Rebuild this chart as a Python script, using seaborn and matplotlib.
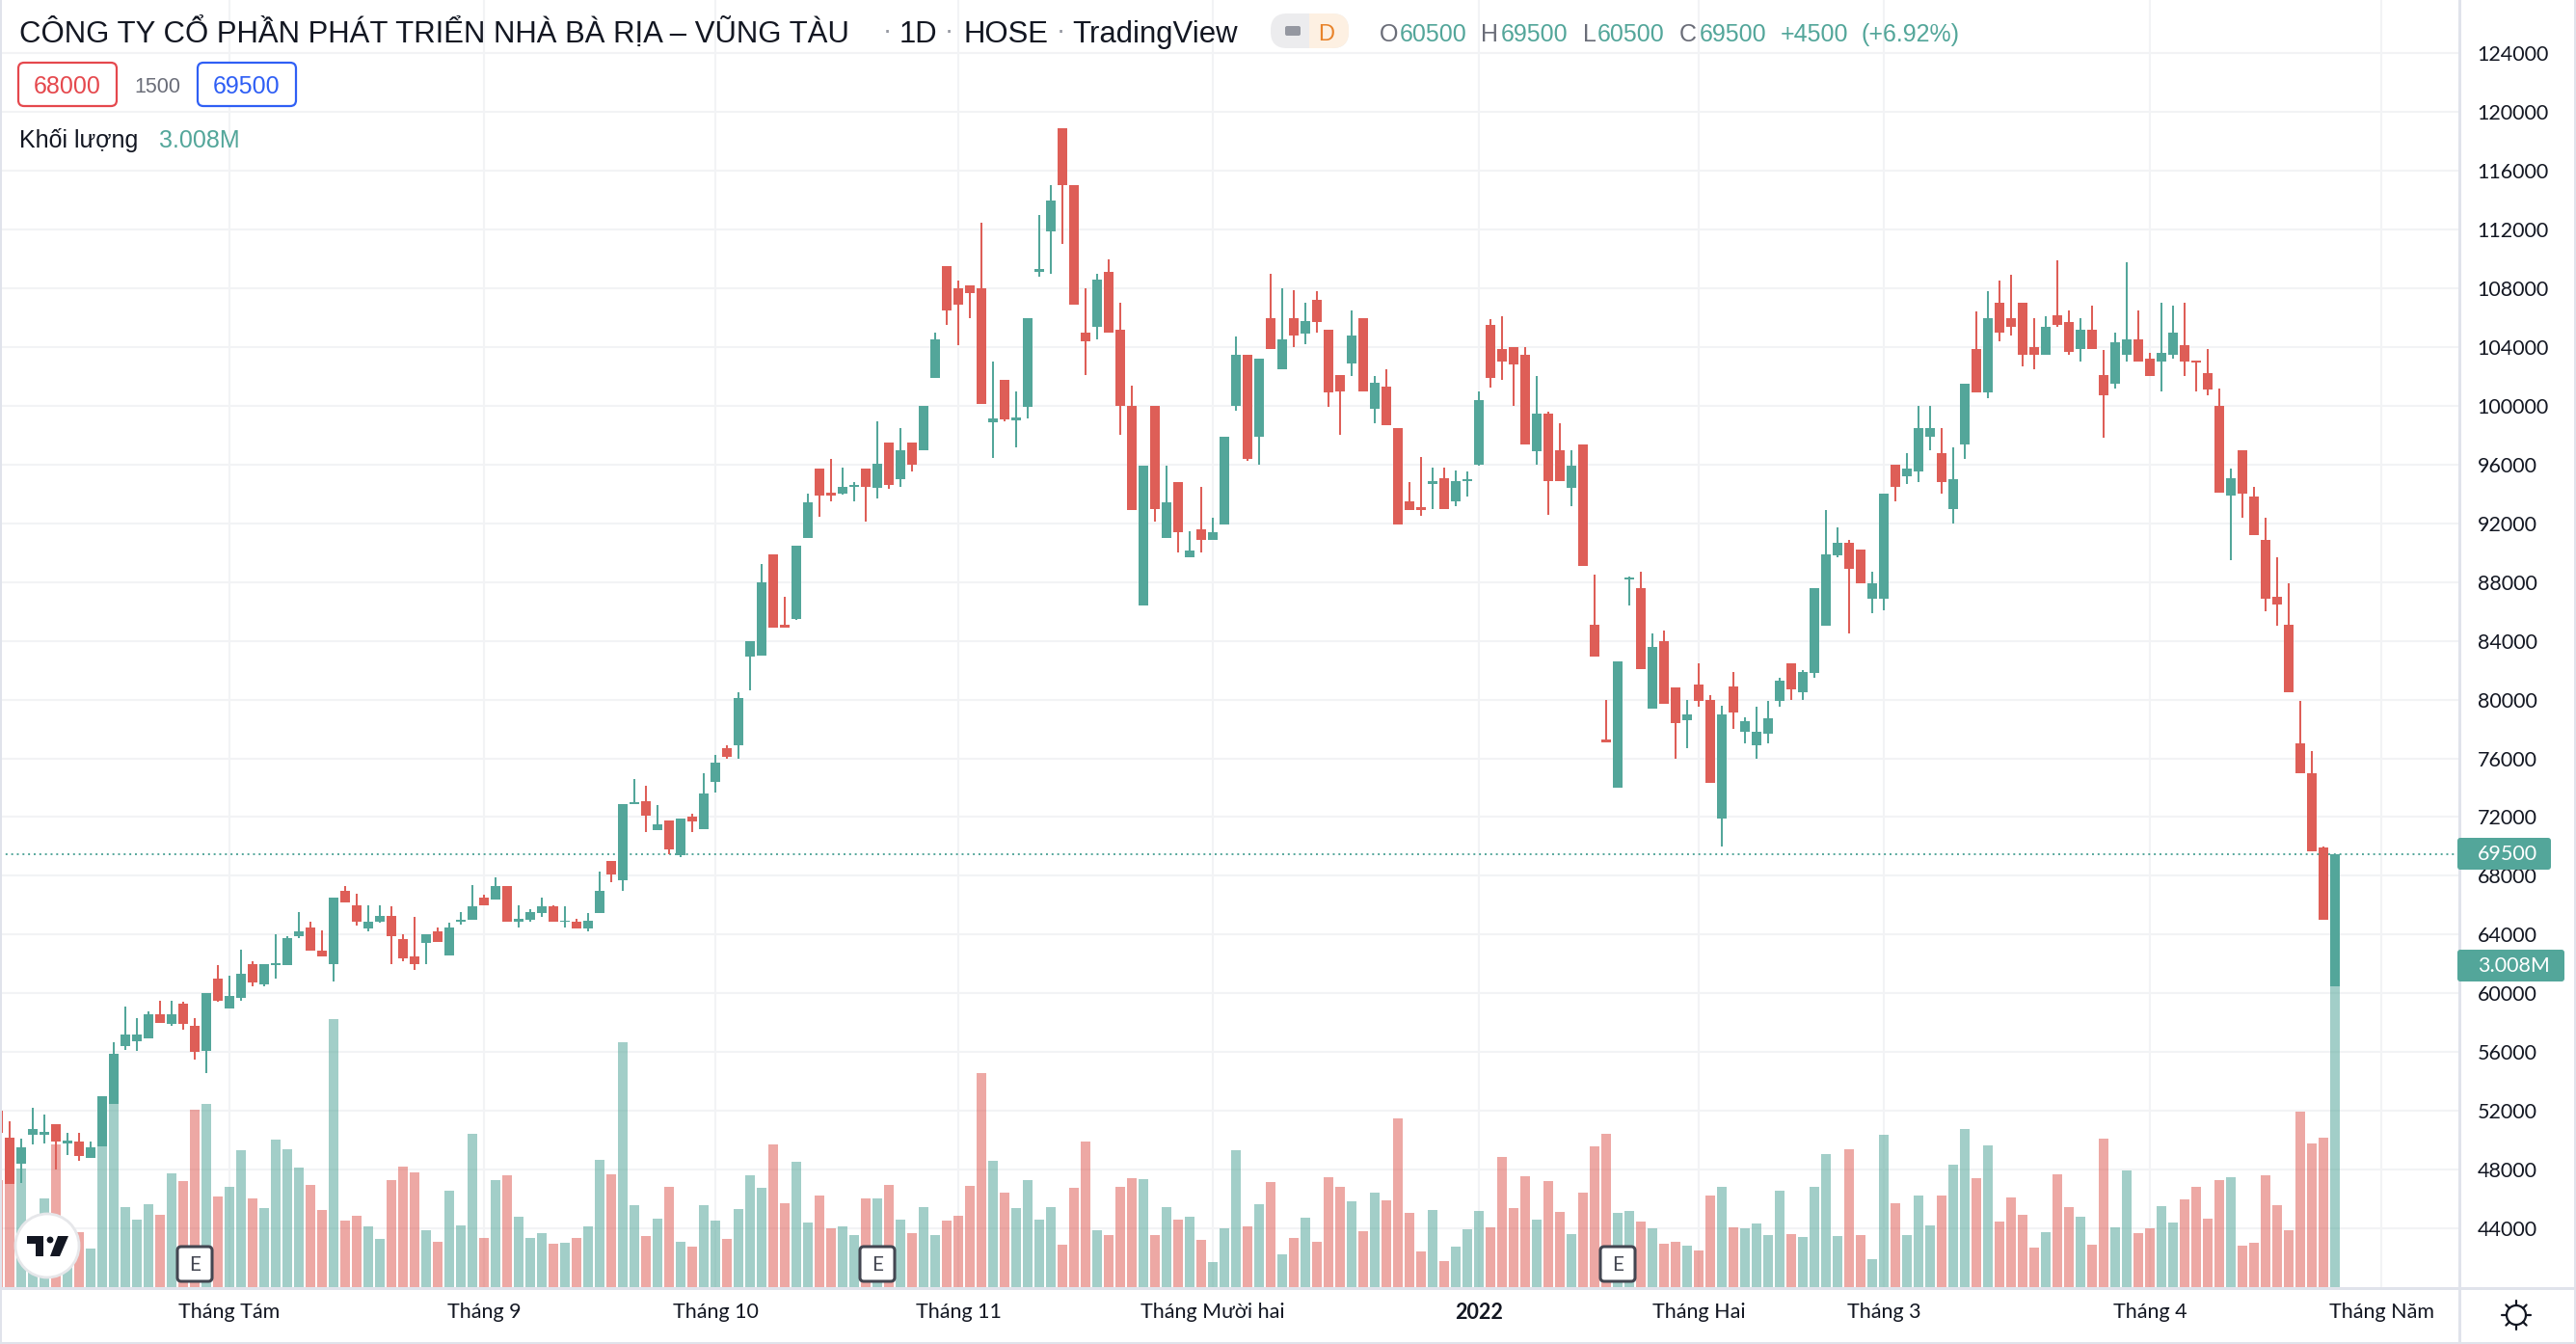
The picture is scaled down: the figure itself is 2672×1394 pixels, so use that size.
import numpy as np
import pandas as pd
import matplotlib
matplotlib.use("Agg")
import matplotlib.pyplot as plt
import seaborn as sns
from matplotlib.patches import Circle, FancyBboxPatch, Polygon, Rectangle

# === Daily candles, first entry is the bar cut off at the left edge ===
opens = [52000,
    50200, 48400, 50400, 50400, 51100, 49800, 49900, 48800, 49600, 52500,
    56400, 56750, 56950, 58550, 57950, 59300, 57800, 56100, 61000, 58950,
    59700, 62000, 60600, 61900, 61950, 63900, 64500, 62900, 62000, 67000,
    66000, 64400, 64900, 65300, 63700, 62500, 63400, 64200, 62600, 64900,
    65000, 66500, 66400, 67300, 64900, 65000, 65450, 65900, 64850, 64900,
    64400, 65450, 69000, 67700, 72900, 73100, 71100, 71800, 69400, 72000,
    71200, 74400, 76700, 76900, 82900, 83000, 89900, 85100, 85500, 91000,
    95700, 94100, 94000, 94450, 95700, 94400, 97500, 95000, 97500, 97000,
    101900, 109500, 108000, 108200, 108000, 98900, 101800, 99000, 99950, 109100,
    111900, 118900, 115000, 105000, 105400, 109100, 105200, 100000, 86400, 100000,
    91000, 94800, 89700, 91600, 90900, 91900, 100000, 103500, 97900, 106000,
    102500, 106000, 104900, 107200, 105200, 102100, 102900, 106000, 99800, 101300,
    98500, 93500, 93100, 94650, 95100, 93500, 94850, 96000, 105500, 103900,
    104000, 103500, 96900, 99500, 97000, 94400, 97400, 85100, 77300, 74000,
    88150, 87600, 79400, 84000, 80800, 78600, 81000, 80000, 71900, 80900,
    77800, 76900, 77700, 79900, 82500, 80500, 81800, 85000, 89800, 90700,
    90200, 86900, 86900, 96000, 95200, 95500, 97900, 96800, 93000, 97400,
    103900, 100900, 107000, 106000, 107000, 104000, 103500, 106200, 105700, 103900,
    105200, 102100, 101500, 103500, 104500, 103200, 103000, 103500, 104100, 103050,
    102200, 100000, 93900, 97000, 93800, 90900, 87000, 85100, 77000, 75000,
    69900, 60500]

highs = [52000,
    51300, 50100, 52200, 51750, 51100, 50500, 50500, 49900, 53000, 56700,
    59100, 58300, 58750, 59500, 59500, 59400, 58300, 60000, 61900, 61200,
    63000, 62200, 62000, 64000, 63900, 65500, 64900, 64300, 66500, 67300,
    66800, 66000, 66000, 65900, 64000, 65200, 64000, 64500, 64800, 65500,
    67400, 66700, 67900, 67300, 66000, 65700, 66500, 66000, 65900, 65100,
    65450, 68300, 69000, 72900, 74600, 74100, 72800, 71800, 71900, 72200,
    75000, 76200, 76900, 80500, 84000, 89200, 89900, 87000, 90500, 94000,
    95700, 96400, 95800, 94800, 95700, 98950, 97500, 98500, 97500, 100000,
    105000, 109500, 108500, 108200, 112500, 103000, 101800, 101000, 106000, 113000,
    115000, 118900, 115000, 108000, 109000, 110000, 107000, 101400, 95900, 100000,
    95900, 94800, 91450, 94500, 92400, 97900, 104700, 103500, 103200, 109000,
    108000, 107900, 107000, 107800, 105200, 102100, 106500, 106000, 102000, 102500,
    98500, 94800, 96500, 95800, 95800, 95600, 95500, 101000, 105900, 106100,
    104000, 104000, 102000, 99600, 98800, 97000, 97400, 88500, 80000, 82600,
    88400, 88700, 84500, 84700, 80800, 80000, 82500, 80300, 79600, 81900,
    78800, 79500, 79900, 81500, 82500, 82000, 87600, 92900, 91700, 90900,
    90200, 88700, 94000, 96000, 96800, 100000, 100000, 98500, 97200, 101500,
    106400, 107800, 108500, 108900, 107000, 106000, 106100, 109900, 106500, 106000,
    106800, 103800, 105000, 109800, 106500, 103600, 107000, 106800, 107000, 103100,
    103900, 101200, 95700, 97000, 94500, 92400, 89700, 87900, 79900, 76500,
    70000, 69500]

lows = [50500,
    47000, 47100, 49700, 49800, 48000, 49000, 48600, 48800, 49600, 52500,
    56150, 56100, 56900, 58000, 57800, 57500, 55500, 54600, 59400, 58950,
    59500, 60500, 60500, 61000, 61900, 63750, 62900, 62500, 60800, 66200,
    64600, 64200, 64800, 62000, 62200, 61600, 62000, 63500, 62600, 64700,
    65000, 66000, 66400, 64900, 64500, 64900, 65200, 64900, 64500, 64400,
    64200, 65450, 67600, 67000, 72900, 71000, 71100, 69500, 69300, 71000,
    71200, 73700, 76000, 76000, 80600, 83000, 84900, 84900, 85400, 91000,
    92450, 93500, 93950, 93500, 92100, 93700, 94350, 94500, 95500, 97000,
    101900, 105500, 104100, 106000, 100100, 96450, 98950, 97200, 99150, 108800,
    109000, 111000, 106900, 102100, 104500, 105000, 98000, 92900, 86400, 92150,
    91000, 90000, 89700, 90000, 90900, 91900, 99700, 96250, 96000, 103900,
    102500, 104000, 104200, 105000, 99900, 98000, 102000, 101000, 98800, 98700,
    91900, 92900, 92500, 93000, 93000, 93200, 93800, 95900, 101250, 101800,
    100000, 97400, 96000, 92600, 94900, 93200, 89100, 82900, 77100, 74000,
    86400, 82100, 79400, 79700, 76000, 76700, 79500, 74300, 70000, 78000,
    77000, 76000, 77000, 79500, 80000, 80000, 81500, 85000, 89700, 84500,
    87900, 85900, 86100, 93500, 94700, 94800, 97000, 94000, 92000, 96400,
    100900, 100500, 104400, 104800, 102700, 102500, 103500, 105400, 103500, 103000,
    103900, 97800, 101200, 103000, 103000, 102000, 101000, 103200, 102000, 101000,
    100700, 94100, 89500, 92400, 91200, 86000, 85000, 80500, 75000, 69700,
    65000, 60500]

closes = [50500,
    47000, 49500, 50750, 50550, 49900, 49950, 48900, 49500, 53000, 55900,
    57200, 57200, 58550, 58000, 58600, 57950, 56000, 60000, 59500, 59800,
    61300, 60750, 62000, 62050, 63750, 64200, 62900, 62500, 66500, 66200,
    64900, 64900, 65300, 63900, 62400, 62000, 64000, 63500, 64500, 65000,
    65900, 66000, 67300, 64900, 65100, 65500, 65900, 64900, 64950, 64400,
    64950, 67000, 68100, 72900, 73000, 72100, 71500, 69800, 71900, 71700,
    73600, 75700, 76100, 80100, 84000, 88000, 84900, 84900, 90500, 93400,
    93900, 93900, 94500, 94600, 94500, 96050, 94600, 97000, 96000, 100000,
    104500, 106500, 106900, 107700, 100100, 99150, 99100, 99200, 106000, 109300,
    114000, 115000, 106900, 104400, 108600, 105000, 100000, 92900, 95900, 92950,
    93400, 91400, 90150, 90900, 91400, 97900, 103500, 96400, 103200, 103900,
    104500, 104800, 105800, 105700, 100900, 101000, 104800, 101000, 101600, 98700,
    91900, 92900, 92900, 94850, 93000, 94900, 95000, 100400, 101900, 103000,
    102800, 97400, 99500, 94900, 94900, 95900, 89100, 82900, 77100, 82600,
    88300, 82100, 83600, 79700, 78400, 79000, 79900, 74300, 79000, 79100,
    78500, 77800, 78700, 81300, 80700, 81900, 87600, 89900, 90700, 88900,
    87900, 87900, 94000, 94500, 95700, 98500, 98500, 94800, 95000, 101500,
    100900, 106000, 105000, 105400, 103500, 103500, 105400, 105500, 103700, 105200,
    103900, 100700, 104300, 104500, 103000, 102000, 103600, 105000, 103000, 102950,
    101100, 94100, 95100, 94000, 91200, 86900, 86500, 80500, 75000, 69700,
    65000, 69500]

# volume in millions of shares
volumes = [1.07,
    1.03, 1.19, 0.6, 0.886, 1.428, 0.55, 0.549, 0.385, 1.408, 1.843,
    0.80, 0.676, 0.83, 0.723, 1.137, 1.06, 1.773, 1.833, 0.907, 1.004,
    1.368, 0.886, 0.789, 1.475, 1.378, 1.194, 1.024, 0.773, 2.679, 0.666,
    0.712, 0.609, 0.482, 1.07, 1.204, 1.147, 0.569, 0.455, 0.963, 0.619,
    1.532, 0.492, 1.07, 1.117, 0.702, 0.492, 0.539, 0.435, 0.445, 0.492,
    0.609, 1.274, 1.127, 2.449, 0.82, 0.511, 0.685, 1.003, 0.453, 0.405,
    0.82, 0.665, 0.482, 0.781, 1.118, 0.993, 1.427, 0.839, 1.253, 0.646,
    0.916, 0.588, 0.607, 0.521, 0.887, 0.887, 1.022, 0.675, 0.54, 0.80,
    0.521, 0.665, 0.713, 1.012, 2.14, 1.263, 0.945, 0.79, 1.07, 0.675,
    0.80, 0.424, 0.993, 1.456, 0.569, 0.521, 1.003, 1.09, 1.08, 0.521,
    0.80, 0.675, 0.704, 0.472, 0.251, 0.588, 1.369, 0.607, 0.829, 1.051,
    0.328, 0.492, 0.694, 0.453, 1.099, 1.003, 0.858, 0.559, 0.945, 0.868,
    1.687, 0.742, 0.357, 0.771, 0.26, 0.405, 0.579, 0.762, 0.598, 1.302,
    0.791, 1.109, 0.675, 1.061, 0.752, 0.53, 0.945, 1.408, 1.533, 0.742,
    0.762, 0.656, 0.588, 0.434, 0.453, 0.415, 0.366, 0.916, 1.003, 0.598,
    0.588, 0.636, 0.521, 0.964, 0.53, 0.501, 1.003, 1.331, 0.511, 1.379,
    0.521, 0.28, 1.523, 0.839, 0.521, 0.916, 0.617, 0.916, 1.225, 1.581,
    1.09, 1.417, 0.656, 0.897, 0.723, 0.395, 0.55, 1.128, 0.80, 0.704,
    0.424, 1.485, 0.598, 1.167, 0.54, 0.588, 0.81, 0.646, 0.877, 1.003,
    0.685, 1.07, 1.099, 0.415, 0.444, 1.118, 0.82, 0.569, 1.755, 1.437,
    1.495, 3.008]

price_ticks = list(range(44000, 124001, 4000))
month_bars = [19, 41, 61, 82, 104, 127, 146, 162, 185, 205]
month_labels = ["Tháng Tám", "Tháng 9", "Tháng 10", "Tháng 11", "Tháng Mười hai",
                "2022", "Tháng Hai", "Tháng 3", "Tháng 4", "Tháng Năm"]
earnings_bars = [16, 75, 139]
last_price = 69500

# === Colours ===
UP = "#53a69a"
DOWN = "#de5e57"
GRID = "#f2f3f5"
FRAME = "#e0e3eb"
INK = "#131722"

sns.set_theme(style="white")
plt.rcParams["font.family"] = ["Lato", "Noto Sans", "DejaVu Sans"]

df = pd.DataFrame({"open": opens, "high": highs, "low": lows, "close": closes, "volume": volumes})
df["bar"] = np.arange(len(df)) - 1
df["side"] = np.where(df["close"] >= df["open"], "up", "down")
palette = {"up": UP, "down": DOWN}

W, H = 2672, 1394
PANE_R, PANE_B = 2551, 1336
fig = plt.figure(figsize=(W / 100, H / 100), dpi=100, facecolor="white")
rect = [0, (H - PANE_B) / H, PANE_R / W, PANE_B / H]
xlim = (-10 / 12, (PANE_R - 10) / 12)
ylim = (39930, 127634)

# === Grid and axis labels at the bottom layer ===
ax = fig.add_axes(rect, zorder=1)
ax.set_xlim(xlim)
ax.set_ylim(ylim)
ax.set_yticks(price_ticks)
ax.yaxis.tick_right()
ax.set_xticks(month_bars)
ax.set_xticklabels(month_labels)
ax.tick_params(axis="y", length=0, pad=13.5, labelsize=15.5, labelcolor=INK, right=False)
ax.tick_params(axis="x", length=0, pad=11, labelsize=15.5, labelcolor=INK)
ax.get_xticklabels()[5].set_fontweight("bold")
ax.grid(True, color=GRID, linewidth=1.5)
for spine in ax.spines.values():
    spine.set_visible(False)

# === Volume pane ===
ax_vol = fig.add_axes(rect, zorder=2, facecolor="none")
sns.barplot(data=df, x="bar", y="volume", hue="side", palette=palette, native_scale=True,
            dodge=False, width=0.84, saturation=1, alpha=0.54, legend=False, errorbar=None,
            linewidth=0, ax=ax_vol)
ax_vol.set_xlim(xlim)
ax_vol.set_ylim(-0.01, 12.87)
ax_vol.axis("off")

# === Candles ===
ax_c = fig.add_axes(rect, zorder=3, facecolor="none")
ax_c.axhline(last_price, color=UP, linewidth=1.4, linestyle=(0, (1, 2)))
for side, group in df.groupby("side"):
    ax_c.vlines(group["bar"], group["low"], group["high"], color=palette[side], linewidth=1.45)
    body_low = group[["open", "close"]].min(axis=1)
    body_high = group[["open", "close"]].max(axis=1)
    ax_c.bar(group["bar"], body_high - body_low, bottom=body_low, width=0.84,
             color=palette[side], linewidth=0)
ax_c.set_xlim(xlim)
ax_c.set_ylim(ylim)
ax_c.axis("off")

# === Overlay in pixels for the TradingView chrome ===
ui = fig.add_axes([0, 0, 1, 1], zorder=5, facecolor="none")
ui.set_xlim(0, W)
ui.set_ylim(H, 0)
ui.axis("off")

# frame lines
ui.add_patch(Rectangle((0, 1335), W, 3, color=FRAME, linewidth=0))
ui.add_patch(Rectangle((2550, 0), 3, 1392, color=FRAME, linewidth=0))
ui.add_patch(Rectangle((0, 0), 2, H, color=FRAME, linewidth=0))
ui.add_patch(Rectangle((W - 2, 0), 2, H, color=FRAME, linewidth=0))
ui.add_patch(Rectangle((0, 1392), W, 2, color=FRAME, linewidth=0))

def head_text(x, y, s, color=INK, size=18, **kw):
    ui.text(x, y, s, color=color, fontsize=size, family=["Liberation Sans"], va="baseline", **kw)

# header line
head_text(20, 44, "CÔNG TY CỔ PHẦN PHÁT TRIỂN NHÀ BÀ RỊA – VŨNG TÀU", size=22.4)
head_text(933, 44, "1D", size=22.4)
head_text(999, 44, "HOSE", size=22.4)
head_text(1112, 44, "TradingView", size=22.4)
for x in (920, 984, 1100):
    head_text(x, 40, "·", color="#9598a1", size=20, ha="center")

# market status pill
pill = FancyBboxPatch((1326, 14), 65, 36, boxstyle="round,pad=0,rounding_size=18",
                      facecolor="#ececee", edgecolor="none", mutation_aspect=1)
pill.set_boxstyle("round,pad=0,rounding_size=17")
ui.add_patch(FancyBboxPatch((1318 + 17, 14 + 17), 81 - 34, 2, boxstyle="round,pad=17",
                            facecolor="#ececee", edgecolor="none"))
peach = Rectangle((1358, 12), 45, 40, facecolor="#fdf0e2", edgecolor="none")
ui.add_patch(peach)
peach.set_clip_path(ui.patches[-2])
ui.add_patch(FancyBboxPatch((1335, 29), 12, 6, boxstyle="round,pad=2", facecolor="#9598a1", edgecolor="none"))
head_text(1376, 42, "D", color="#e8832a", size=17, ha="center")

# OHLC readout
for x, s in [(1431, "O"), (1536, "H"), (1642, "L"), (1742, "C")]:
    head_text(x, 43, s, color="#6a6d78")
for x, s in [(1452, "60500"), (1557, "69500"), (1657, "60500"), (1763, "69500"),
             (1847, "+4500"), (1931, "(+6.92%)")]:
    head_text(x, 43, s, color=UP)

# bid / ask boxes
for x0, x1, color, s in [(19, 121, "#e5484d", "68000"), (205, 307, "#2f5ff5", "69500")]:
    ui.add_patch(FancyBboxPatch((x0 + 6, 65 + 6), x1 - x0 - 12, 45 - 12, boxstyle="round,pad=6",
                                facecolor="white", edgecolor=color, linewidth=1.6))
    head_text((x0 + x1) / 2, 97, s, color=color, size=18, ha="center")
head_text(163, 96, "1500", color="#6a6d78", size=15.5, ha="center")

# volume legend
head_text(20, 153, "Khối lượng", size=18)
head_text(165, 153, "3.008M", color=UP, size=18)

# price badges on the right axis
for y0, y1, x1, s in [(869, 902, 2646, "69500"), (985, 1018, 2660, "3.008M")]:
    ui.add_patch(FancyBboxPatch((2552, y0 + 3), x1 - 2552 - 3, y1 - y0 - 6, boxstyle="round,pad=3",
                                facecolor=UP, edgecolor="none"))
    ui.text(2570, (y0 + y1) / 2 + 0.5, s, color="white", fontsize=15.5, va="center")

# earnings markers
for bar in earnings_bars:
    cx = 10 + 12 * bar + 0
    ui.add_patch(FancyBboxPatch((cx - 14, 1311 - 14), 28, 28, boxstyle="round,pad=4",
                                facecolor="white", edgecolor="#434651", linewidth=2.2))
    ui.text(cx, 1311.5, "E", color="#434651", fontsize=15, ha="center", va="center")

# logo
ui.add_patch(Circle((49, 1292), 33, facecolor="white", edgecolor="#e6e7ea", linewidth=2))
ui.add_patch(Polygon([(28, 1282), (45, 1282), (45, 1303), (37, 1303), (37, 1290), (28, 1290)],
                     facecolor=INK, edgecolor="none"))
ui.add_patch(Circle((52, 1286), 3.4, facecolor=INK, edgecolor="none"))
ui.add_patch(Polygon([(60, 1282), (71, 1282), (62, 1303), (52, 1303)], facecolor=INK, edgecolor="none"))

# settings icon
ui.add_patch(Circle((2610, 1364), 10, facecolor="none", edgecolor=INK, linewidth=1.6))
for a in np.deg2rad(np.arange(0, 360, 45)):
    ui.plot([2610 + 10 * np.cos(a), 2610 + 15 * np.cos(a)], [1364 + 10 * np.sin(a), 1364 + 15 * np.sin(a)],
            color=INK, linewidth=1.6)
ui.set_xlim(0, W)
ui.set_ylim(H, 0)

fig.savefig("out.png", dpi=100, facecolor="white")
